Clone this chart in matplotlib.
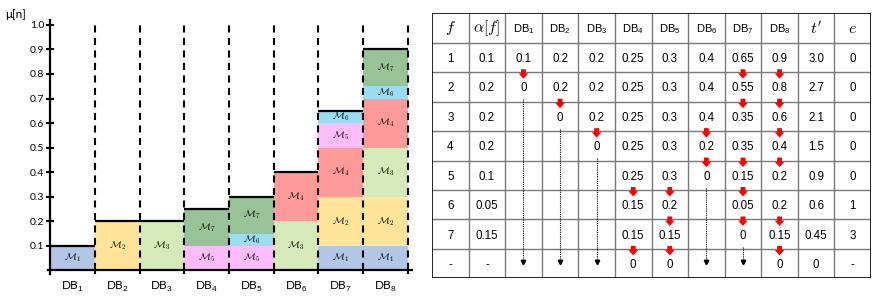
import matplotlib
matplotlib.use('Agg')
import matplotlib.pyplot as plt

# 数学字体：默认无衬线，模型标签和表头另用 cm
plt.rcParams['mathtext.fontset'] = 'custom'
plt.rcParams['mathtext.rm'] = 'Liberation Sans'
plt.rcParams['mathtext.it'] = 'Liberation Sans:italic'
plt.rcParams['mathtext.bf'] = 'Liberation Sans:bold'

# 左图数据：每个 DB 自下而上的模型编号和高度
db_names = ['DB$_1$', 'DB$_2$', 'DB$_3$', 'DB$_4$', 'DB$_5$', 'DB$_6$', 'DB$_7$', 'DB$_8$']
bar_models = [[1], [2], [3], [5, 7], [5, 6, 7], [3, 4], [1, 2, 4, 5, 6], [1, 2, 3, 4, 6, 7]]
bar_sizes = [[0.1], [0.2], [0.2], [0.1, 0.15], [0.1, 0.05, 0.15], [0.2, 0.2],
             [0.1, 0.2, 0.2, 0.1, 0.05], [0.1, 0.2, 0.2, 0.2, 0.05, 0.15]]
model_colors = {1: '#b4c6e5', 2: '#ffe49a', 3: '#d6e9b9', 4: '#ff9a9a',
                5: '#ffbdfd', 6: '#9bdcf2', 7: '#98c396'}
y_ticks = [0.1, 0.2, 0.3, 0.4, 0.5, 0.6, 0.7, 0.8, 0.9, 1.0]

# 右表数据
f_vals = ['1', '2', '3', '4', '5', '6', '7', '-']
alpha_vals = ['0.1', '0.2', '0.2', '0.2', '0.1', '0.05', '0.15', '-']
db_vals = [
    ['0.1', '0.2', '0.2', '0.25', '0.3', '0.4', '0.65', '0.9'],
    ['0', '0.2', '0.2', '0.25', '0.3', '0.4', '0.55', '0.8'],
    ['', '0', '0.2', '0.25', '0.3', '0.4', '0.35', '0.6'],
    ['', '', '0', '0.25', '0.3', '0.2', '0.35', '0.4'],
    ['', '', '', '0.25', '0.3', '0', '0.15', '0.2'],
    ['', '', '', '0.15', '0.2', '', '0.05', '0.2'],
    ['', '', '', '0.15', '0.15', '', '0', '0.15'],
    ['', '', '', '0', '0', '', '', '0'],
]
t_vals = ['3.0', '2.7', '2.1', '1.5', '0.9', '0.6', '0.45', '0']
e_vals = ['0', '0', '0', '0', '0', '1', '3', '-']

fig = plt.figure(figsize=(8.85, 3.04), dpi=100)

# ---------- 左边柱状图 ----------
ax = fig.add_axes([0.054, 0.0987, 0.412, 0.8355])
for i in range(len(bar_models)):
    bottom = 0
    for m, h in zip(bar_models[i], bar_sizes[i]):
        ax.bar(i + 0.5, h, bottom=bottom, width=1, color=model_colors[m], linewidth=0, zorder=1)
        t = ax.text(i + 0.5, bottom + h / 2, r'$\mathcal{M}_{%d}$' % m, ha='center', va='center',
                    fontsize=7, zorder=3)
        t.set_math_fontfamily('cm')
        bottom += h
    ax.hlines(bottom, i, i + 1, color='black', lw=1.6, zorder=4)

ax.vlines(range(1, len(bar_models) + 1), 0, 1.02, color='black', lw=1.5,
          linestyles=(0, (3.4, 2.6)), zorder=5)

ax.set_xlim(-0.05, 8.1)
ax.set_ylim(-0.015, 1.02)
for s in ['top', 'right']:
    ax.spines[s].set_visible(False)
ax.spines['left'].set_position(('data', 0))
ax.spines['bottom'].set_position(('data', 0))
ax.spines['left'].set_linewidth(1.6)
ax.spines['bottom'].set_linewidth(1.6)
ax.spines['left'].set_zorder(6)
ax.spines['bottom'].set_zorder(6)

ax.set_yticks(y_ticks)
ax.set_yticklabels(['%.1f' % v for v in y_ticks], fontsize=7.5, family='Lato')
ax.tick_params(axis='y', direction='inout', length=6, width=1.5, pad=1)
ax.set_xticks(range(0, 9))
ax.set_xticklabels([])
ax.tick_params(axis='x', which='major', direction='out', length=3, width=1.5)
ax.set_xticks([i + 0.5 for i in range(8)], minor=True)
ax.set_xticklabels(db_names, minor=True, fontsize=8.5, family='Lato')
ax.tick_params(axis='x', which='minor', length=0, pad=7)

fig.text(0.006, 1 - 15 / 304, 'μ[n]', fontsize=8.5, family='Lato', va='center', ha='left')

# ---------- 右边表格 ----------
tb = fig.add_axes([432 / 885, 1 - 278.3 / 304, 439 / 885, 265 / 304])
tb.set_xlim(0, 12)
tb.set_ylim(9, 0)
tb.axis('off')

for x in range(1, 12):
    tb.plot([x, x], [0, 9], color='#7a7a7a', lw=1.0)
for y in range(1, 9):
    tb.plot([0, 12], [y, y], color='#7a7a7a', lw=1.0)
tb.plot([0, 12, 12, 0, 0], [0, 0, 9, 9, 0], color='black', lw=1.2)

headers = ['$f$', r'$\alpha[f]$'] + db_names + ["$t'$", '$e$']
for j, h in enumerate(headers):
    if h.startswith('DB'):
        tb.text(j + 0.5, 0.55, h, ha='center', va='center', fontsize=8, family='Liberation Sans')
    else:
        t = tb.text(j + 0.5, 0.5, h, ha='center', va='center', fontsize=11.5)
        t.set_math_fontfamily('cm')

for r in range(8):
    row = [f_vals[r], alpha_vals[r]] + db_vals[r] + [t_vals[r], e_vals[r]]
    for j, v in enumerate(row):
        if v:
            tb.text(j + 0.5, r + 1.55, v, ha='center', va='center', fontsize=8.3,
                    family='Liberation Sans')

# 红色箭头：数值变化处
for c in range(8):
    for r in range(7):
        a, b = db_vals[r][c], db_vals[r + 1][c]
        if a and b and a != b:
            yb = r + 2
            tb.annotate('', xy=(c + 2.5, yb + 0.22), xytext=(c + 2.5, yb - 0.1),
                        arrowprops=dict(arrowstyle='simple,head_length=0.38,head_width=0.7,tail_width=0.35',
                                        color='red', lw=0, shrinkA=0, shrinkB=0, mutation_scale=10))

# 虚线箭头：归零后一直到最后一行
for c in range(8):
    col = [db_vals[r][c] for r in range(8)]
    if col[-1] == '' and '0' in col:
        r0 = col.index('0')
        tb.plot([c + 2.5, c + 2.5], [r0 + 1.92, 8.4], color='black', lw=0.8, ls=(0, (1, 1)))
        tb.plot([c + 2.5], [8.45], marker='v', color='black', markersize=3.2)

fig.savefig('out.png', dpi=100)
